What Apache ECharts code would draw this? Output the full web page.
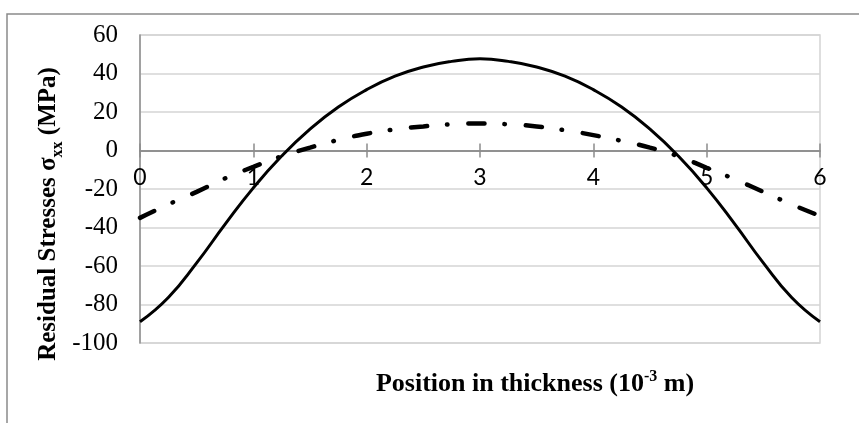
<!DOCTYPE html>
<html>
<head>
<meta charset="utf-8">
<script src="https://cdn.jsdelivr.net/npm/echarts@6/dist/echarts.min.js"></script>
<style>
html,body{margin:0;padding:0;background:#fff;}
#chart{width:859px;height:423px;}
</style>
</head>
<body>
<div id="chart"></div>
<script>
// Position in thickness (10^-3 m)
const positions = [0, 0.25, 0.5, 0.75, 1.0, 1.25, 1.5, 1.75, 2.0, 2.25, 2.5, 2.75, 3.0,
                   3.25, 3.5, 3.75, 4.0, 4.25, 4.5, 4.75, 5.0, 5.25, 5.5, 5.75, 6.0];
// Solid curve (MPa)
const solidStress = [-89, -76.4, -58.4, -38.4, -19.4, -2.9, 11.1, 22.6, 31.6, 38.6, 43.4, 46.3, 47.6,
                     46.3, 43.4, 38.6, 31.6, 22.6, 11.1, -2.9, -19.4, -38.4, -58.4, -76.4, -89];
// Dash-dot curve (MPa)
const dashDotStress = [-35, -28, -21.5, -14.5, -8.5, -3, 1.5, 5.5, 8.7, 11, 12.5, 13.6, 14,
                       13.6, 12.5, 10.5, 8, 5, 1.5, -3, -9, -15, -21.5, -28, -34];
const yTicks = {min: -100, max: 60, interval: 20};
const xTicks = {min: 0, max: 6, interval: 1};

const pair = (ys) => positions.map((x, i) => [x, ys[i]]);

const chart = echarts.init(document.getElementById('chart'), null, {renderer: 'canvas'});
const axisGray = '#8c8c8c';
const gridGray = '#d4d4d4';

chart.setOption({
  animation: false,
  backgroundColor: '#fff',
  grid: {left: 140, right: 39, top: 35, bottom: 80, show: true, borderColor: gridGray, borderWidth: 1.5},
  xAxis: [{
    type: 'value', min: xTicks.min, max: xTicks.max, interval: xTicks.interval,
    position: 'bottom', offset: 0,
    axisLine: {show: true, onZero: false, lineStyle: {color: axisGray, width: 1.5}},
    axisTick: {show: true, inside: false, length: 7, lineStyle: {color: axisGray, width: 1.5}},
    axisLabel: {show: true, color: '#000', fontFamily: 'Lato', fontSize: 23, margin: 16},
    splitLine: {show: false}
  }, {
    type: 'value', min: xTicks.min, max: xTicks.max, interval: xTicks.interval,
    position: 'bottom', offset: 0,
    axisLine: {show: true, onZero: false, lineStyle: {color: axisGray, width: 1.5}},
    axisTick: {show: true, inside: true, length: 7, lineStyle: {color: axisGray, width: 1.5}},
    axisLabel: {show: false},
    splitLine: {show: false}
  }],
  yAxis: [{
    type: 'value', min: yTicks.min, max: yTicks.max, interval: yTicks.interval,
    axisLine: {show: true, lineStyle: {color: axisGray, width: 1.5}},
    axisTick: {show: false},
    axisLabel: {color: '#000', fontFamily: 'Liberation Serif', fontSize: 25, margin: 22},
    splitLine: {show: true, lineStyle: {color: gridGray, width: 1.5}}
  }],
  graphic: [
    {type: 'rect', z: -10, silent: true,
     shape: {x: 7, y: 14, width: 900, height: 500},
     style: {fill: 'none', stroke: '#8a8a8a', lineWidth: 1.5}},
    {type: 'text', x: 535, y: 383, silent: true,
     style: {
       text: '{b|Position in thickness (10}{sup|-3}{b| m)}',
       align: 'center', verticalAlign: 'middle',
       rich: {
         b: {fontFamily: 'Liberation Serif', fontWeight: 'bold', fontSize: 26, fill: '#000', lineHeight: 28, verticalAlign: 'bottom'},
         sup: {fontFamily: 'Liberation Serif', fontWeight: 'bold', fontSize: 16, fill: '#000', lineHeight: 16, verticalAlign: 'top'}
       }
     }},
    {type: 'text', x: 51, y: 214, rotation: Math.PI / 2, silent: true,
     style: {
       text: '{b|Residual Stresses σ}{sub|xx}{b| (MPa)}',
       align: 'center', verticalAlign: 'middle',
       rich: {
         b: {fontFamily: 'Liberation Serif', fontWeight: 'bold', fontSize: 25, fill: '#000', lineHeight: 30, verticalAlign: 'top'},
         sub: {fontFamily: 'Liberation Serif', fontWeight: 'bold', fontSize: 16, fill: '#000', lineHeight: 16, verticalAlign: 'bottom'}
       }
     }}
  ],
  series: [{
    type: 'line', name: 'solid', xAxisIndex: 0, yAxisIndex: 0,
    data: pair(solidStress), smooth: 0.5, showSymbol: false,
    lineStyle: {color: '#000', width: 3}
  }, {
    type: 'line', name: 'dashdot', xAxisIndex: 0, yAxisIndex: 0,
    data: pair(dashDotStress), smooth: 0.5, showSymbol: false,
    lineStyle: {color: '#000', width: 4.5, type: [16, 20, 0.5, 21], cap: 'round'}
  }]
});

// Move the x axes (line, ticks, labels) up onto the y = 0 line, as in the reference.
const zeroPx = chart.convertToPixel({yAxisIndex: 0}, 0);
const bottomPx = chart.convertToPixel({yAxisIndex: 0}, yTicks.min);
const shift = zeroPx - bottomPx;
chart.setOption({xAxis: [{offset: shift}, {offset: shift}]});
</script>
</body>
</html>
